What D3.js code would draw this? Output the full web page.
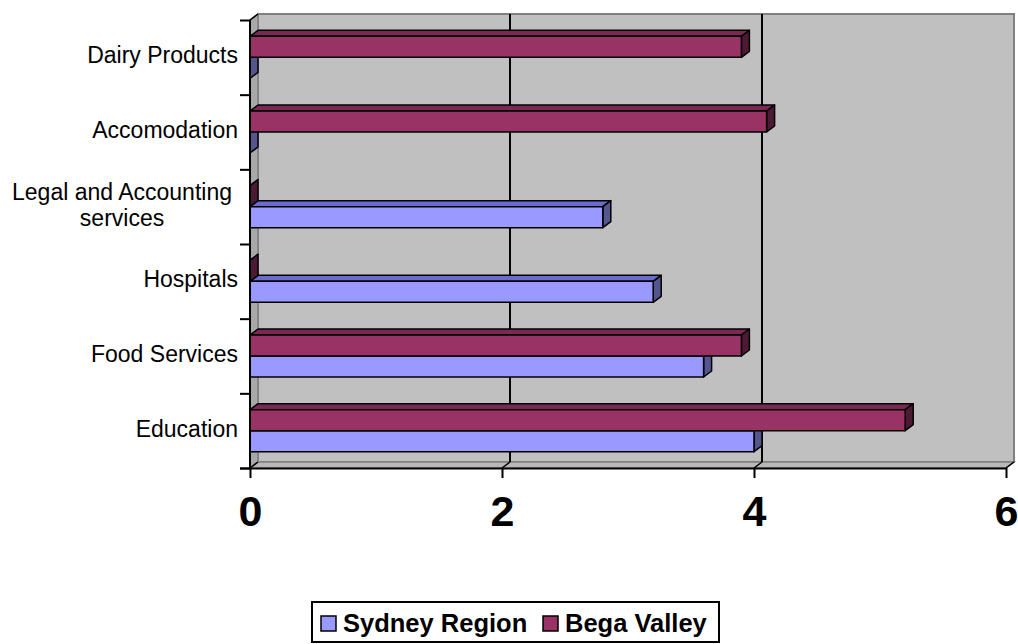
<!DOCTYPE html>
<html>
<head>
<meta charset="utf-8">
<script src="https://cdn.jsdelivr.net/npm/d3@7"></script>
<style>
  html, body { margin: 0; padding: 0; background: #ffffff; }
  svg { display: block; font-family: Arial, "Liberation Sans", sans-serif; }
</style>
</head>
<body>
<svg id="chart" width="1018" height="644"></svg>
<script>
// Industries, listed top to bottom as they appear on the category axis
const categories = ["Dairy Products", "Accomodation", "Legal and Accounting services", "Hospitals", "Food Services", "Education"];
const sydneyRegion = [0, 0, 2.8, 3.2, 3.6, 4.0];
const begaValley  = [3.9, 4.1, 0, 0, 3.9, 5.2];
const xTicks = [0, 2, 4, 6];
const seriesNames = ["Sydney Region", "Bega Valley"];

// Colours of each series: front face, top face, end face
const palette = {
  "Sydney Region": { front: "#9999FF", top: "#6B6BCF", side: "#55558F" },
  "Bega Valley":   { front: "#993366", top: "#7A2952", side: "#4D1A33" }
};

const svg = d3.select("#chart");

// Plot frame: front plane and the depth offset of the 3D box
const plotLeft = 250, plotRight = 1006, plotTop = 20, plotBottom = 468;
const dx = 8, dy = -6;

const x = d3.scaleLinear().domain([0, 6]).range([plotLeft, plotRight]);
const y = d3.scaleBand().domain(categories).range([plotTop, plotBottom])
  .paddingInner(0.4375).paddingOuter(0.21875);
const ySeries = d3.scaleBand().domain(["Bega Valley", "Sydney Region"]).range([0, y.bandwidth()]);

// Back wall
svg.append("rect")
  .attr("x", plotLeft + dx).attr("y", plotTop + dy)
  .attr("width", x(6) - plotLeft).attr("height", plotBottom - plotTop)
  .attr("fill", "#C0C0C0").attr("stroke", "#808080").attr("stroke-width", 2);

// Side wall on the left
svg.append("polygon")
  .attr("points", [[plotLeft, plotTop], [plotLeft + dx, plotTop + dy], [plotLeft + dx, plotBottom + dy], [plotLeft, plotBottom]].join(" "))
  .attr("fill", "#A8A8A8").attr("stroke", "#808080").attr("stroke-width", 1.5);
svg.append("line")
  .attr("x1", plotLeft).attr("y1", plotTop).attr("x2", plotLeft + dx).attr("y2", plotTop + dy)
  .attr("stroke", "#000").attr("stroke-width", 1.5);

// Floor
svg.append("polygon")
  .attr("points", [[plotLeft, plotBottom], [plotLeft + dx, plotBottom + dy], [x(6) + dx, plotBottom + dy], [x(6), plotBottom]].join(" "))
  .attr("fill", "#B8B8B8").attr("stroke", "#808080").attr("stroke-width", 1.5);

// Value gridlines on the back wall and their runs across the floor
const grid = svg.append("g");
xTicks.forEach(v => {
  if (v > 0 && v < 6) {
    grid.append("line")
      .attr("x1", x(v) + dx).attr("x2", x(v) + dx)
      .attr("y1", plotTop + dy).attr("y2", plotBottom + dy)
      .attr("stroke", "#000").attr("stroke-width", 2);
  }
  grid.append("line")
    .attr("x1", x(v)).attr("y1", plotBottom).attr("x2", x(v) + dx).attr("y2", plotBottom + dy)
    .attr("stroke", "#000").attr("stroke-width", 1.5);
});

// 3D bars
const rows = categories.map((c, i) => ({ cat: c, values: { "Sydney Region": sydneyRegion[i], "Bega Valley": begaValley[i] } }));
const bars = svg.append("g");
rows.forEach(r => {
  // the lower bar first so the upper one covers its top face
  ["Sydney Region", "Bega Valley"].forEach(s => {
    const v = r.values[s];
    const y0 = y(r.cat) + ySeries(s);
    const h = ySeries.bandwidth();
    const x0 = x(0), x1 = x(v);
    const col = palette[s];
    const g = bars.append("g").attr("stroke", "#000").attr("stroke-width", 1.5).attr("stroke-linejoin", "round");
    g.append("polygon")
      .attr("points", [[x0, y0], [x0 + dx, y0 + dy], [x1 + dx, y0 + dy], [x1, y0]].join(" "))
      .attr("fill", col.top);
    g.append("polygon")
      .attr("points", [[x1, y0], [x1 + dx, y0 + dy], [x1 + dx, y0 + h + dy], [x1, y0 + h]].join(" "))
      .attr("fill", col.side);
    if (x1 > x0) {
      g.append("rect")
        .attr("x", x0).attr("y", y0).attr("width", x1 - x0).attr("height", h)
        .attr("fill", col.front);
    }
  });
});

// Category axis: tick marks sit on the band boundaries
const yEdges = d3.scaleLinear().domain([0, categories.length]).range([plotTop, plotBottom]);
const yTickAxis = svg.append("g").attr("transform", `translate(${plotLeft},0)`)
  .call(d3.axisLeft(yEdges).tickValues(d3.range(0, categories.length + 1)).tickSize(10).tickFormat(""));
yTickAxis.select(".domain").remove();
yTickAxis.selectAll(".tick line").attr("stroke", "#000").attr("stroke-width", 2);

// Category labels; a wrapped label has its lines centred on one another
const labelRight = plotLeft - 12;
const labelAxis = svg.append("g").attr("transform", `translate(${labelRight},0)`)
  .call(d3.axisLeft(y).tickSize(0).tickPadding(0));
labelAxis.select(".domain").remove();
labelAxis.selectAll(".tick text")
  .attr("font-family", "Arial, 'Liberation Sans', sans-serif")
  .attr("font-size", 23).attr("fill", "#000")
  .each(function(d) {
    const t = d3.select(this);
    t.text(null).attr("dy", null);
    const lines = d === "Legal and Accounting services" ? ["Legal and Accounting", "services"] : [d];
    const spans = lines.map((ln, k) => t.append("tspan").attr("x", 0)
      .attr("y", (k - (lines.length - 1) / 2) * 26 + 6).text(ln));
    if (lines.length > 1) {
      const w = d3.max(spans, sp => sp.node().getComputedTextLength());
      t.attr("text-anchor", "middle");
      spans.forEach(sp => sp.attr("x", -w / 2 - 6));
    }
  });

// Category axis line
svg.append("line").attr("x1", plotLeft).attr("x2", plotLeft).attr("y1", plotTop).attr("y2", plotBottom)
  .attr("stroke", "#000").attr("stroke-width", 2);

// Value axis
const xAxis = svg.append("g").attr("transform", `translate(0,${plotBottom})`)
  .call(d3.axisBottom(x).tickValues(xTicks).tickSize(10).tickPadding(17).tickFormat(d3.format("d")));
xAxis.select(".domain").attr("stroke", "#000").attr("stroke-width", 2)
  .attr("d", `M${plotLeft - 10},0.5H${plotRight}`);
xAxis.selectAll(".tick line").attr("stroke", "#000").attr("stroke-width", 2);
xAxis.selectAll(".tick text")
  .attr("font-family", "Arial, 'Liberation Sans', sans-serif")
  .attr("font-size", 43).attr("font-weight", "bold").attr("fill", "#000");

// Legend
const legend = svg.append("g");
legend.append("rect").attr("x", 312).attr("y", 602).attr("width", 407).attr("height", 40)
  .attr("fill", "#fff").attr("stroke", "#000").attr("stroke-width", 2);
const legendX = [321, 543];
seriesNames.forEach((s, i) => {
  legend.append("rect").attr("x", legendX[i]).attr("y", 616).attr("width", 15).attr("height", 15)
    .attr("fill", palette[s].front).attr("stroke", "#000").attr("stroke-width", 1.5);
  legend.append("text").attr("x", legendX[i] + 22).attr("y", 632)
    .attr("font-size", 25.5).attr("font-weight", "bold").attr("fill", "#000").text(s);
});
</script>
</body>
</html>
